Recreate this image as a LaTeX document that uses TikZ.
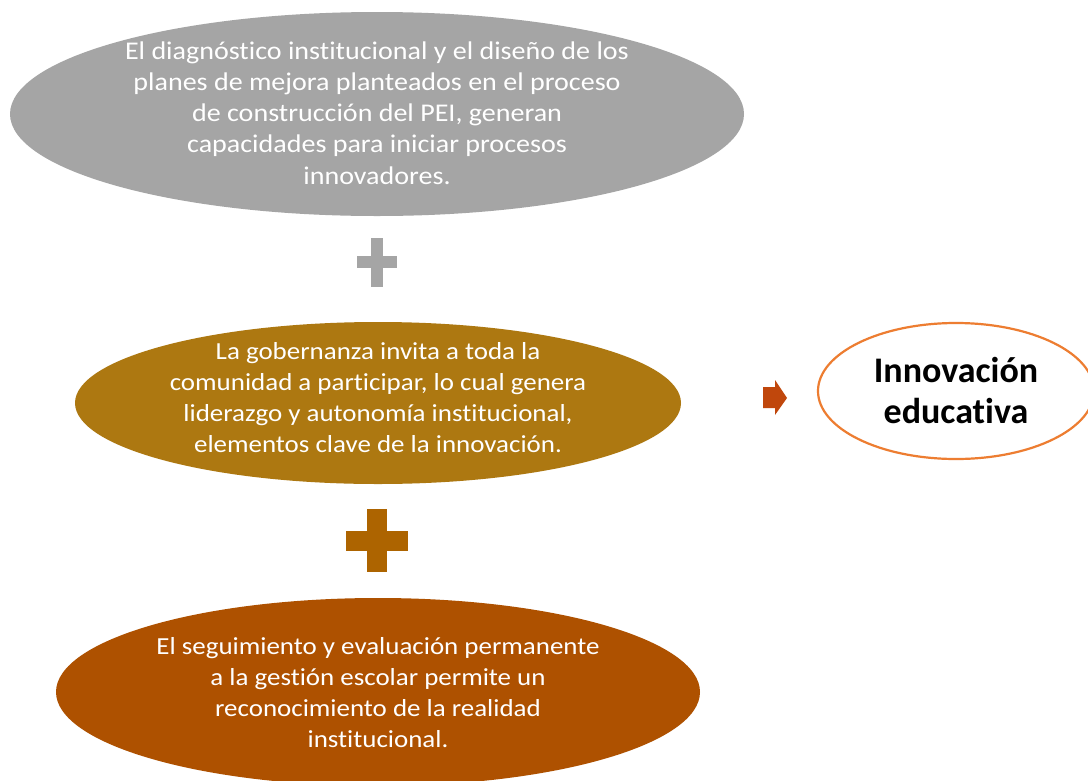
\documentclass[tikz,border=0pt]{standalone}
\usepackage{fontspec}
\setmainfont{Carlito}[Ligatures=NoCommon]
\newfontfamily\widefont{Carlito}[Ligatures=NoCommon, FakeStretch=1.1]
\usetikzlibrary{shapes.geometric}
\definecolor{cgray}{HTML}{A5A5A5}
\definecolor{cgold}{HTML}{AD7811}
\definecolor{cbrown}{HTML}{AE5100}
\definecolor{cplus}{HTML}{AD6400}
\definecolor{carrow}{HTML}{C0470C}
\definecolor{corange}{HTML}{ED7D31}
\begin{document}
\begin{tikzpicture}[x=1pt,y=-1pt,
  blob/.style={inner sep=0pt, align=center, text=white,
    font=\widefont\fontsize{24.5}{31}\selectfont},
  bigblob/.style={blob, font=\widefont\fontsize{25.5}{31.2}\selectfont},
  goal/.style={inner sep=0pt, align=center, text=black,
    font=\fontsize{36}{41}\selectfont\bfseries}]
\useasboundingbox (0,0) rectangle (1088,780);
\fill[white] (0,0) rectangle (1088,780);
\begin{scope}
\clip (0,0) rectangle (1088,780);
\fill[cgray] (377,114) ellipse [x radius=367, y radius=102];
\node[bigblob] (a) at (377,113) {El diagnóstico institucional y el diseño de los\\planes de mejora planteados en el proceso\\de construcción del PEI, generan\\capacidades para iniciar procesos\\innovadores.};
\fill[cgold] (378,403) ellipse [x radius=303, y radius=81];
\node[blob] (b) at (378,398) {La gobernanza invita a toda la\\comunidad a participar, lo cual genera\\liderazgo y autonomía institucional,\\elementos clave de la innovación.};
\fill[cbrown] (378,692) ellipse [x radius=322, y radius=94];
\node[blob] (c) at (378,693) {El seguimiento y evaluación permanente\\a la gestión escolar permite un\\reconocimiento de la realidad\\institucional.};
\draw[corange, line width=2.2pt, fill=white] (956,391) ellipse [x radius=138, y radius=68];
\node[goal] (d) at (956,390) {Innovación\\educativa};
\end{scope}
% plus signs
\fill[cgray] (371,238) rectangle (383,287);
\fill[cgray] (357,256) rectangle (397,268);
\fill[cplus] (367,509) rectangle (387,572);
\fill[cplus] (346,531) rectangle (408,551);
% arrow
\fill[carrow] (763,387) -- (775,387) -- (775,380) -- (787,398) -- (775,415) -- (775,408) -- (763,408) -- cycle;
\end{tikzpicture}
\end{document}
